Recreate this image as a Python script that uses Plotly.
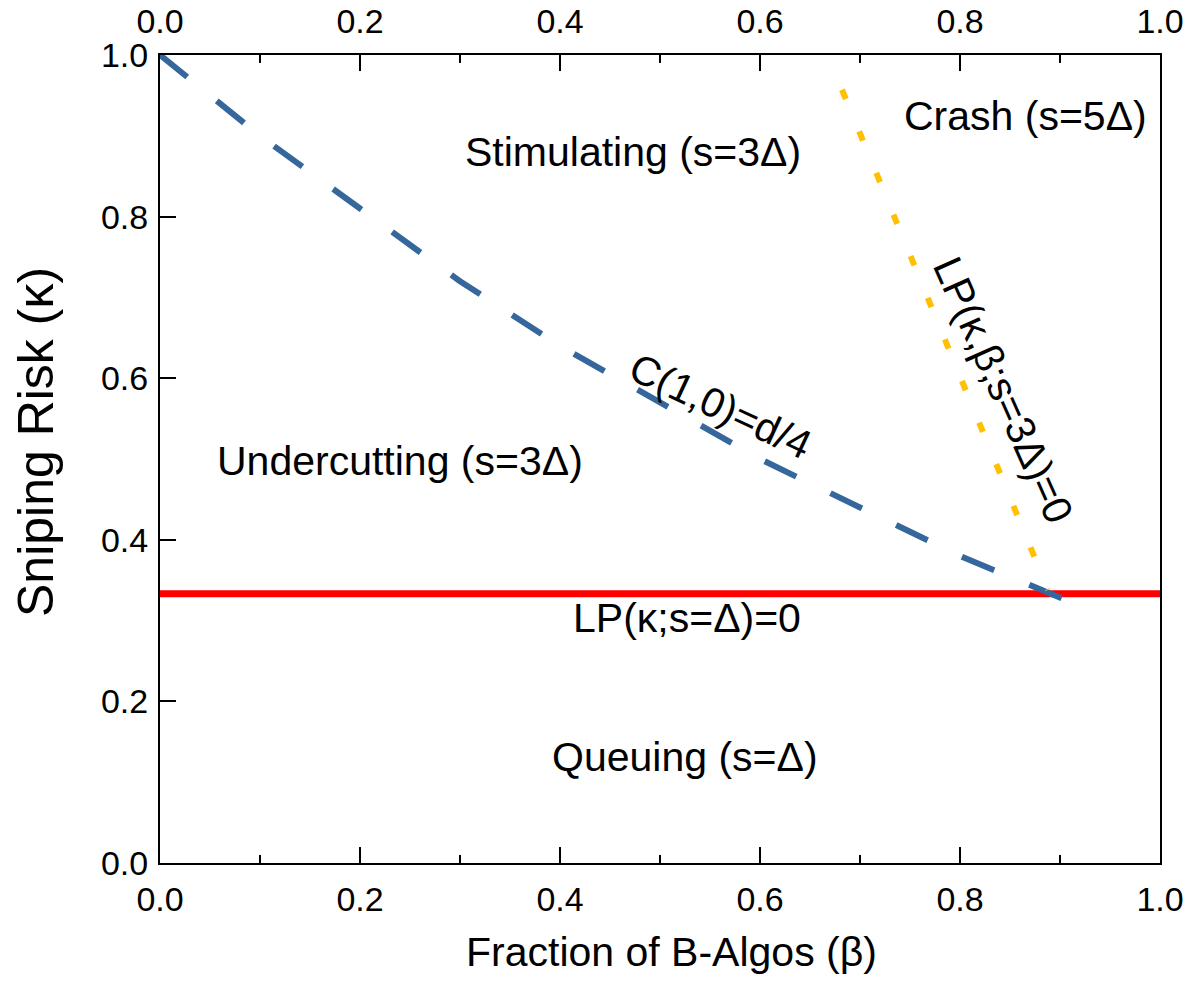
import plotly.graph_objects as go

# ---- data ----
# C(1,0)=d/4 boundary (blue dashed)
c_beta = [0.0, 0.1, 0.2, 0.3, 0.4, 0.5, 0.6, 0.7, 0.8, 0.905]
c_kappa = [1.0, 0.90, 0.81, 0.72, 0.64, 0.57, 0.50, 0.44, 0.38, 0.326]

# LP(kappa,beta;s=3Delta)=0 boundary (gold dotted)
lp3_beta = [0.682, 0.888]
lp3_kappa = [0.957, 0.338]

# LP(kappa;s=Delta)=0 boundary (red solid)
lp1_beta = [0.0, 1.0]
lp1_kappa = [0.3333, 0.3333]

tick_vals = [0.0, 0.2, 0.4, 0.6, 0.8, 1.0]
tick_text = ["0.0", "0.2", "0.4", "0.6", "0.8", "1.0"]

region_labels = ["Stimulating (s=3Δ)", "Crash (s=5Δ)", "Undercutting (s=3Δ)",
                 "LP(κ;s=Δ)=0", "Queuing (s=Δ)", "C(1,0)=d/4", "LP(κ,β;s=3Δ)=0"]
region_x = [0.473, 0.865, 0.240, 0.527, 0.525, 0.560, 0.843]
region_y = [0.880, 0.924, 0.4975, 0.303, 0.131, 0.565, 0.585]
region_angle = [0, 0, 0, 0, 0, 25, 66]

FONT = "Liberation Sans, Arial, sans-serif"

fig = go.Figure()
fig.add_trace(go.Scatter(x=lp1_beta, y=lp1_kappa, mode="lines",
                         line=dict(color="#FF0000", width=7), showlegend=False,
                         hoverinfo="skip"))
fig.add_trace(go.Scatter(x=c_beta, y=c_kappa, mode="lines",
                         line=dict(color="#35679C", width=6, dash="35px,38px"),
                         showlegend=False, hoverinfo="skip"))
fig.add_trace(go.Scatter(x=lp3_beta, y=lp3_kappa, mode="lines",
                         line=dict(color="#FFC000", width=6, dash="10px,35px"),
                         showlegend=False, hoverinfo="skip"))
# invisible trace to carry the top axis
fig.add_trace(go.Scatter(x=[0, 1], y=[0, 0], xaxis="x2", yaxis="y", mode="lines",
                         line=dict(width=0), opacity=0, showlegend=False,
                         hoverinfo="skip"))

for t, x, y, a in zip(region_labels, region_x, region_y, region_angle):
    fig.add_annotation(x=x, y=y, xref="x", yref="y", text=t, showarrow=False,
                       textangle=a, xanchor="center", yanchor="middle",
                       font=dict(family=FONT, size=41, color="black"))

# axis titles
fig.add_annotation(x=0.511, y=-0.110, xref="paper", yref="paper",
                   text="Fraction of B-Algos (β)", showarrow=False,
                   xanchor="center", yanchor="middle",
                   font=dict(family=FONT, size=41, color="black"))
fig.add_annotation(x=-0.124, y=0.521, xref="paper", yref="paper",
                   text="Sniping Risk (κ)", showarrow=False, textangle=-90,
                   xanchor="center", yanchor="middle",
                   font=dict(family=FONT, size=50, color="black"))

axis_common = dict(range=[0, 1], showgrid=False, zeroline=False,
                   showline=True, linecolor="black", linewidth=2,
                   automargin=False,
                   tickfont=dict(family=FONT, size=34, color="black"))

# the page body adds an 8px offset, so the figure is sized to fit the window
fig.update_layout(
    width=1186, height=973,
    margin=dict(l=152, r=34, t=47, b=118),
    paper_bgcolor="white", plot_bgcolor="white",
    xaxis=dict(**axis_common, tickmode="array", tickvals=tick_vals,
               ticktext=tick_text, ticks="inside", ticklen=16, tickwidth=2,
               tickcolor="black", mirror=False, ticklabelstandoff=5,
               minor=dict(dtick=0.1, ticks="inside", ticklen=8, tickwidth=2,
                          tickcolor="black", showgrid=False)),
    xaxis2=dict(**axis_common, overlaying="x", side="top", anchor="y",
                tickmode="array", tickvals=tick_vals, ticktext=tick_text,
                ticks="inside", ticklen=16, tickwidth=2, tickcolor="black",
                ticklabelstandoff=6,
                minor=dict(dtick=0.1, ticks="inside", ticklen=8, tickwidth=2,
                           tickcolor="black", showgrid=False)),
    yaxis=dict(**axis_common, tickmode="array", tickvals=tick_vals,
               ticktext=tick_text, ticks="inside", ticklen=16, tickwidth=2,
               tickcolor="black", mirror=True, ticklabelstandoff=3),
)

fig.write_html("out.html")
